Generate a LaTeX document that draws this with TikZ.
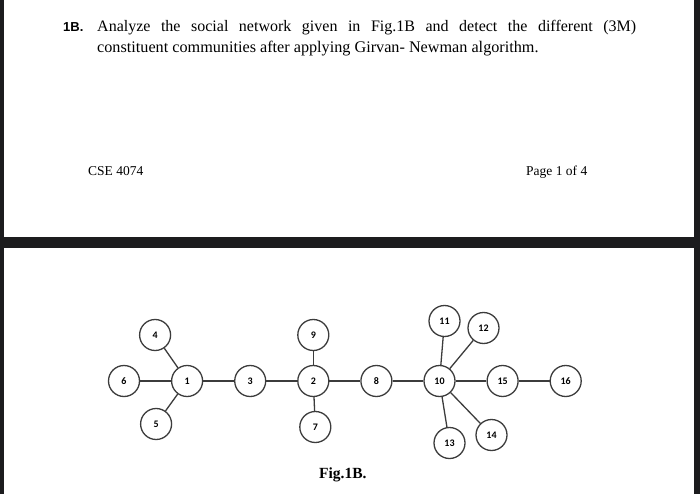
\documentclass[tikz,border=0pt]{standalone}
\usepackage{fontspec}
\setmainfont{Liberation Serif}
\newfontfamily\numfont{Carlito}
\newfontfamily\qfont{Liberation Sans}
\usetikzlibrary{positioning}
\definecolor{framedark}{HTML}{1C1C1E}
\definecolor{linegray}{HTML}{3C3C3C}

\begin{document}
\begin{tikzpicture}[
  x=1pt, y=-1pt,
  node distance = 30.8pt,
  vert/.style = {
    circle, draw=linegray, line width=1.3pt, fill=white,
    minimum size=31pt, inner sep=0pt,
    font=\numfont\bfseries\fontsize{10}{11}\selectfont
  },
  edge/.style = {draw=linegray, line width=1.3pt},
  txt/.style  = {inner sep=0pt, anchor=base west},
]
%% ---- Page background ----
\fill[framedark] (0,0) rectangle (700,494);
\fill[white] (4,0) rectangle (694,237);
\fill[white] (4,248) rectangle (694,494);
\useasboundingbox (0,0) rectangle (700,494);

%% ---- Question text ----
\node[txt] (qno) at (63,32) {\qfont\bfseries\fontsize{13}{15}\selectfont 1B.};
\node[txt] (qline1) at (97,32) {\fontsize{16}{19}\selectfont
  \makebox[539pt][s]{Analyze the social network given in Fig.1B and detect the different (3M)}};
\node[txt] (qline2) at (97,53) {\fontsize{16.2}{19}\selectfont
  constituent communities after applying Girvan- Newman algorithm.};

\node[txt] (course) at (88,176) {\fontsize{13.5}{16}\selectfont CSE 4074};
\node[txt] (page) at (526,176) {\fontsize{13.5}{16}\selectfont Page 1 of 4};

%% ---- Main chain ----
\node[vert] (n6) at (124,381) {6};
\node[vert, right=of n6]  (n1)  {1};
\node[vert, right=of n1]  (n3)  {3};
\node[vert, right=of n3]  (n2)  {2};
\node[vert, right=of n2]  (n8)  {8};
\node[vert, right=of n8]  (n10) {10};
\node[vert, right=of n10] (n15) {15};
\node[vert, right=of n15] (n16) {16};

%% ---- Side vertices ----
\node[vert] (n4)  at ([shift={(-32,-46)}]n1)  {4};
\node[vert] (n5)  at ([shift={(-31,43)}]n1)   {5};
\node[vert] (n9)  at ([shift={(0,-46)}]n2)    {9};
\node[vert] (n7)  at ([shift={(2,46)}]n2)     {7};
\node[vert] (n11) at ([shift={(5,-60)}]n10)   {11};
\node[vert] (n12) at ([shift={(44,-53)}]n10)  {12};
\node[vert] (n13) at ([shift={(10,62)}]n10)   {13};
\node[vert] (n14) at ([shift={(52,54)}]n10)   {14};

%% ---- Edges ----
\draw[edge] (n6) -- (n1);
\draw[edge] (n1) -- (n3);
\draw[edge] (n3) -- (n2);
\draw[edge] (n2) -- (n8);
\draw[edge] (n8) -- (n10);
\draw[edge] (n10) -- (n15);
\draw[edge] (n15) -- (n16);
\draw[edge] (n1) -- (n4);
\draw[edge] (n1) -- (n5);
\draw[edge] (n2) -- (n9);
\draw[edge] (n2) -- (n7);
\draw[edge] (n10) -- (n11);
\draw[edge] (n10) -- (n12);
\draw[edge] (n10) -- (n13);
\draw[edge] (n10) -- (n14);

%% ---- Caption ----
\node[txt] (cap) at (319,478) {\bfseries\fontsize{15.5}{18}\selectfont Fig.1B.};

\end{tikzpicture}
\end{document}
